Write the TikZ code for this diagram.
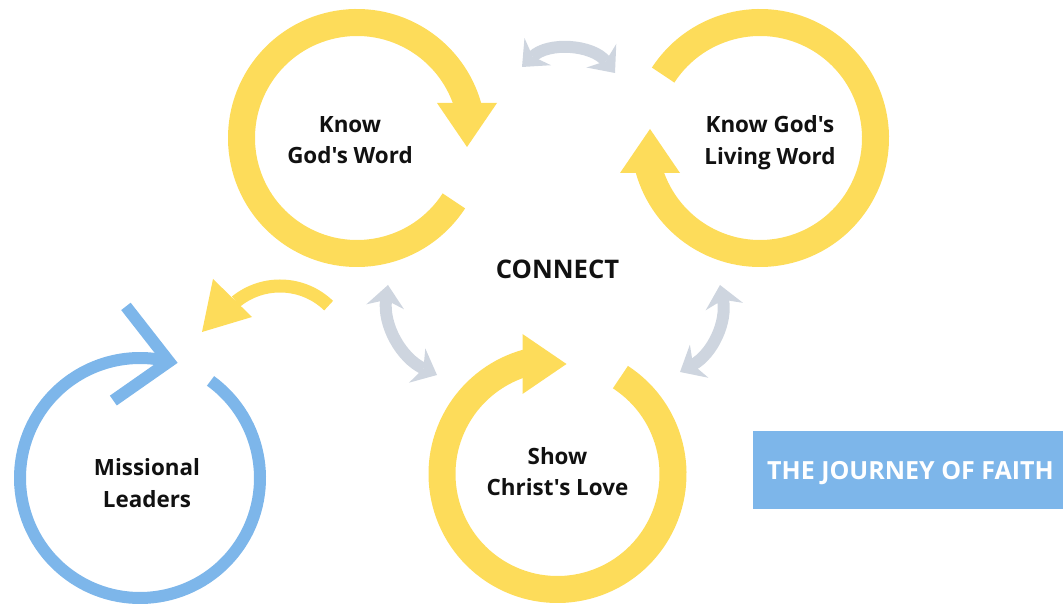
\documentclass[tikz,border=0pt]{standalone}
\usepackage{fontspec}
\setmainfont{Open Sans}[Ligatures=TeXOff]
\usepackage{xcolor}
\usetikzlibrary{arrows.meta}
\definecolor{ringyellow}{RGB}{253,220,90}
\definecolor{ringblue}{RGB}{125,182,234}
\definecolor{linkgray}{RGB}{206,213,223}
\definecolor{labelblack}{RGB}{17,17,17}

\begin{document}
\begin{tikzpicture}[x=1pt, y=1pt,
    yellowring/.style={draw=ringyellow, line width=27pt},
    bluering/.style={draw=ringblue, line width=12pt},
    ringtext/.style={align=center, inner sep=0pt, text=labelblack,
        font=\fontsize{22.4}{31.5}\selectfont\bfseries},
    link/.style={draw=linkgray, line width=12pt,
        {Stealth[length=22pt, width=38pt, inset=7pt, line width=0pt]}-{Stealth[length=22pt, width=38pt, inset=7pt, line width=0pt]}}]
\useasboundingbox (0,0) rectangle (1063,605);
\coordinate (kgw) at (357,467);
\coordinate (living) at (760,467);
\coordinate (show) at (557.5,131);
\coordinate (leaders) at (140,127);
\foreach \c/\r in {kgw/0, living/180, show/90} {
    \begin{scope}[shift={(\c)}, rotate=\r]
    \draw[yellowring] (-33:115.5) arc[start angle=-33, end angle=-344.5, radius=115.5pt];
    \fill[ringyellow] (80,35) -- (140,35) -- (110,-9) -- cycle;
    \end{scope}
}
\begin{scope}[shift={(leaders)}]
\draw[bluering] (54:120) arc[start angle=54, end angle=-284, radius=120pt];
\coordinate (ltip) at (76:120);
\draw[bluering, line join=miter] ([shift={(128:70)}]ltip) -- (ltip) -- ([shift={(215:68)}]ltip);
\end{scope}
\begin{scope}[shift={(280,249)}]
\draw[ringyellow, line width=13pt] (46:70) arc[start angle=46, end angle=129, radius=70pt];
\fill[ringyellow] (-67,77) -- (-28,39) -- (-78,24) -- cycle;
\end{scope}
\coordinate (ta) at (522,538);
\coordinate (tb) at (615,532);
\coordinate (la) at (388,320);
\coordinate (lb) at (437,230);
\coordinate (ra) at (720,320);
\coordinate (rb) at (680,233);
\draw[link] (ta) to[bend left=48] (tb);
\draw[link] (la) to[bend right=36] (lb);
\draw[link] (ra) to[bend left=36] (rb);
\node[ringtext] (kgwtext) at (350,465) {Know\\God's Word};
\node[ringtext] (livingtext) at (770,462.5) {Know God's\\Living Word};
\node[ringtext] (showtext) at (557.5,133.5) {Show\\Christ's Love};
\node[ringtext] (leaderstext) at (147,122) {Missional\\Leaders};
\node[ringtext, font=\fontsize{25.6}{30}\selectfont\bfseries] (connect) at (557.5,336) {CONNECT};
\fill[ringblue] (753,96) rectangle (1063,174);
\node[anchor=base west, inner sep=0pt, text=white,
    font=\fontsize{25}{30}\selectfont\bfseries] (title) at (767,125.7) {THE JOURNEY OF FAITH};
\end{tikzpicture}
\end{document}
